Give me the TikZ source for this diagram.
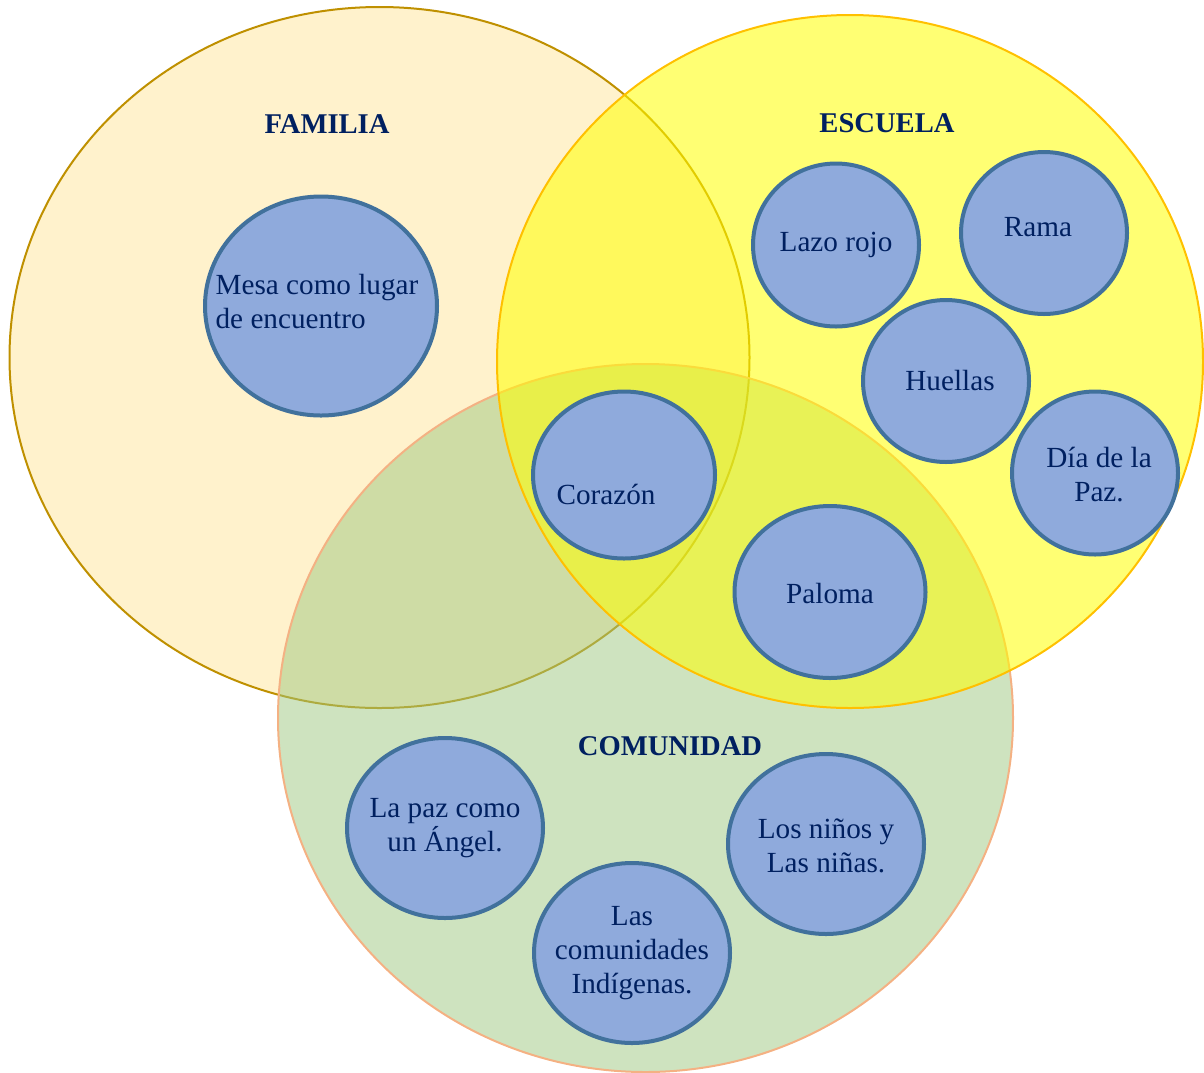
\documentclass[tikz,border=0pt]{standalone}
\usepackage{fontspec}
\setmainfont{Liberation Serif}
\usetikzlibrary{shapes.geometric}
\definecolor{navy}{HTML}{002060}
\definecolor{famfill}{HTML}{FFF2CC}
\definecolor{famline}{HTML}{BF9000}
\definecolor{escfill}{HTML}{FFFF00}
\definecolor{escline}{HTML}{FFC000}
\definecolor{comfill}{HTML}{9EC77F}
\definecolor{comline}{HTML}{F4B183}
\definecolor{bubfill}{HTML}{8FAADC}
\definecolor{bubline}{HTML}{41719C}
\tikzset{zone/.style={ellipse,inner sep=0pt,line width=1pt}, bubble/.style={ellipse,draw=bubline,line width=2pt,fill=bubfill,inner sep=0pt}, btext/.style={text=navy,inner sep=0pt,align=center,font=\fontsize{14.6pt}{17pt}\selectfont}, title/.style={text=navy,inner sep=0pt,font=\fontsize{14.3pt}{17pt}\selectfont\bfseries}}

\begin{document}
\begin{tikzpicture}[x=0.5pt,y=-0.5pt]
\useasboundingbox (0,0) rectangle (1204,1072);
\node[zone,draw=famline,fill=famfill,minimum width=370pt,minimum height=350.5pt](familia) at (379.5,357.5){};
\node[zone,draw=comline,fill=comfill,fill opacity=0.5,minimum width=367.5pt,minimum height=354pt](comunidad) at (645.5,718){};
\node[zone,draw=escline,fill=escfill,fill opacity=0.55,minimum width=353pt,minimum height=346.5pt](escuela) at (850,361.5){};
\node[title](tfam) at (327,124){FAMILIA};
\node[title](tesc) at (887,123){ESCUELA};
\node[title](tcom) at (670,746){COMUNIDAD};
% familia
\node[bubble,minimum width=116pt,minimum height=109.5pt,label={[btext,align=left,xshift=-2pt,yshift=2pt]center:Mesa como lugar\\de encuentro}](mesa) at (321,306){};
% escuela
\node[bubble,minimum width=83pt,minimum height=81.5pt,label={[btext]center:Lazo rojo}](lazo) at (836,245){};
\node[bubble,minimum width=83pt,minimum height=81pt,label={[btext,xshift=-3pt,yshift=3pt]center:Rama}](rama) at (1044,233){};
\node[bubble,minimum width=83pt,minimum height=81pt,label={[btext,xshift=2pt]center:Huellas}](huellas) at (946,381){};
\node[bubble,minimum width=83pt,minimum height=81.5pt,label={[btext,xshift=2pt,yshift=-1pt]center:D\'ia de la\\Paz.}](dia) at (1095,473){};
% cruces
\node[bubble,minimum width=91pt,minimum height=83.5pt,label={[btext,xshift=-9pt,yshift=-9.5pt]center:Coraz\'on}](corazon) at (624,475){};
\node[bubble,minimum width=95.5pt,minimum height=86pt,label={[btext,yshift=-1pt]center:Paloma}](paloma) at (830,592){};
% comunidad
\node[bubble,minimum width=98pt,minimum height=90pt,label={[btext]center:La paz como\\un \'Angel.}](angel) at (445,828){};
\node[bubble,minimum width=98pt,minimum height=90pt,label={[btext]center:Las\\comunidades\\Ind\'igenas.}](indigenas) at (632,953){};
\node[bubble,minimum width=98pt,minimum height=90pt,label={[btext,yshift=-1pt]center:Los ni\~nos y\\Las ni\~nas.}](ninos) at (826,844){};
\end{tikzpicture}
\end{document}
